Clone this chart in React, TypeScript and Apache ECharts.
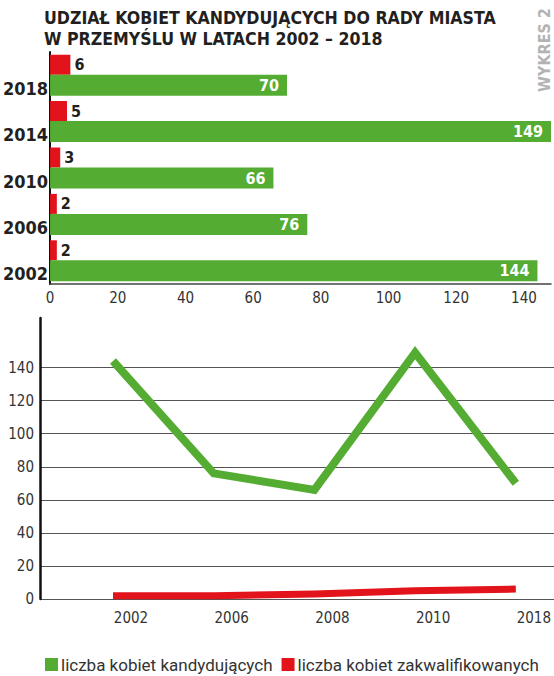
import React, { useEffect, useRef } from "react";
import * as echarts from "echarts";

const barYears = ["2002", "2006", "2010", "2014", "2018"];
const barCandidates = [144, 76, 66, 149, 70];
const barQualified = [2, 2, 3, 5, 6];

const lineYears = ["2002", "2006", "2008", "2010", "2018"];
const lineCandidates = [144, 76, 66, 149, 70];
const lineQualified = [2, 2, 3, 5, 6];

const NAME_C = "liczba kobiet kandydujących";
const NAME_Q = "liczba kobiet zakwalifikowanych";
const TITLE = "UDZIAŁ KOBIET KANDYDUJĄCYCH DO RADY MIASTA\nW PRZEMYŚLU W LATACH 2002 – 2018";

const GREEN = "#55ac32";
const RED = "#e2131b";
const COND = "'DejaVu Sans Condensed', 'DejaVu Sans', sans-serif";

export default function App() {
  const ref = useRef<HTMLDivElement>(null);
  useEffect(() => {
    if (!ref.current) return;
    const chart = echarts.init(ref.current, null, { renderer: "svg" });
    chart.setOption({
      animation: false,
      backgroundColor: "#ffffff",
      title: {
        text: TITLE,
        left: 39,
        top: 2,
        textStyle: {
          fontFamily: COND,
          fontWeight: "bold",
          fontSize: 17.6,
          lineHeight: 21,
          color: "#231f20",
        },
      },
      graphic: [
        {
          type: "text",
          x: 544,
          y: 50,
          rotation: Math.PI / 2,
          style: {
            text: "WYKRES 2",
            fill: "#b3b3b3",
            font: "bold 16px " + COND,
            align: "center",
            verticalAlign: "middle",
          },
        },
      ],
      legend: {
        data: [NAME_C, NAME_Q],
        left: 40,
        top: 651,
        icon: "rect",
        itemWidth: 13,
        itemHeight: 13,
        itemGap: 9,
        textStyle: { fontFamily: "Roboto", fontSize: 17, color: "#333333", padding: [0, 0, 0, -2] },
      },
      grid: [
        { left: 41, right: 0, top: 52, height: 232, containLabel: false },
        { left: 40, right: 0, top: 318, height: 281, containLabel: false },
        { left: 113, right: 31, top: 318, height: 281, containLabel: false },
      ],
      xAxis: [
        {
          gridIndex: 0,
          type: "value",
          min: 0,
          max: 148,
          interval: 20,
          axisLine: { show: true, lineStyle: { color: "#444444", width: 1.5 } },
          axisTick: { show: false },
          splitLine: { show: false },
          axisLabel: {
            margin: 6,
            fontFamily: COND,
            fontSize: 15,
            color: "#333333",
            formatter: (v: number) => (v % 20 === 0 ? String(v) : ""),
          },
        },
        {
          gridIndex: 1,
          type: "value",
          show: false,
          min: 0,
          max: 1,
        },
        {
          gridIndex: 2,
          type: "category",
          data: lineYears,
          boundaryGap: false,
          axisLine: { show: false },
          axisTick: { show: false },
          axisLabel: {
            margin: 11,
            fontFamily: COND,
            fontSize: 15,
            color: "#333333",
            padding: [0, 0, 0, 36],
          },
        },
      ],
      yAxis: [
        {
          gridIndex: 0,
          type: "category",
          data: barYears,
          axisLine: { show: true, lineStyle: { color: "#111111", width: 2 } },
          axisTick: { show: false },
          axisLabel: {
            margin: 2,
            fontFamily: COND,
            fontWeight: "bold",
            fontSize: 18,
            color: "#231f20",
            verticalAlign: "top",
            lineHeight: 26,
          },
        },
        {
          gridIndex: 1,
          type: "value",
          min: 0,
          max: 170,
          interval: 20,
          axisLine: { show: true, lineStyle: { color: "#111111", width: 2.5 } },
          axisTick: { show: false },
          splitLine: {
            show: true,
            lineStyle: {
              color: [
                "#555555", "#555555", "#555555", "#555555",
                "#555555", "#555555", "#555555", "#555555",
                "rgba(0,0,0,0)", "rgba(0,0,0,0)",
              ],
              width: 1,
            },
          },
          axisLabel: {
            margin: 6,
            fontFamily: COND,
            fontSize: 15,
            color: "#333333",
            formatter: (v: number) => (v <= 140 ? String(v) : ""),
          },
        },
        {
          gridIndex: 2,
          type: "value",
          min: 0,
          max: 170,
          show: false,
        },
      ],
      series: [
        {
          name: NAME_Q,
          type: "bar",
          xAxisIndex: 0,
          yAxisIndex: 0,
          data: barQualified,
          barWidth: 20,
          barGap: "0%",
          itemStyle: { color: RED },
          label: {
            show: true,
            position: "right",
            distance: 4,
            color: "#231f20",
            fontFamily: COND,
            fontWeight: "bold",
            fontSize: 16,
          },
        },
        {
          name: NAME_C,
          type: "bar",
          xAxisIndex: 0,
          yAxisIndex: 0,
          data: barCandidates,
          barWidth: 21,
          barGap: "0%",
          itemStyle: { color: GREEN },
          label: {
            show: true,
            position: "insideRight",
            distance: 8,
            color: "#ffffff",
            fontFamily: COND,
            fontWeight: "bold",
            fontSize: 16,
          },
        },
        {
          name: NAME_C,
          type: "line",
          xAxisIndex: 2,
          yAxisIndex: 2,
          data: lineCandidates,
          showSymbol: false,
          symbol: "none",
          itemStyle: { color: GREEN },
          lineStyle: { color: GREEN, width: 8, join: "miter", cap: "butt" },
        },
        {
          name: NAME_Q,
          type: "line",
          xAxisIndex: 2,
          yAxisIndex: 2,
          data: lineQualified,
          showSymbol: false,
          symbol: "none",
          itemStyle: { color: RED },
          lineStyle: { color: RED, width: 7, join: "miter", cap: "butt" },
        },
      ],
    });
    return () => chart.dispose();
  }, []);
  return (
    <div
      ref={ref}
      style={{ position: "fixed", left: 0, top: 0, width: 554, height: 676, background: "#fff" }}
    />
  );
}
